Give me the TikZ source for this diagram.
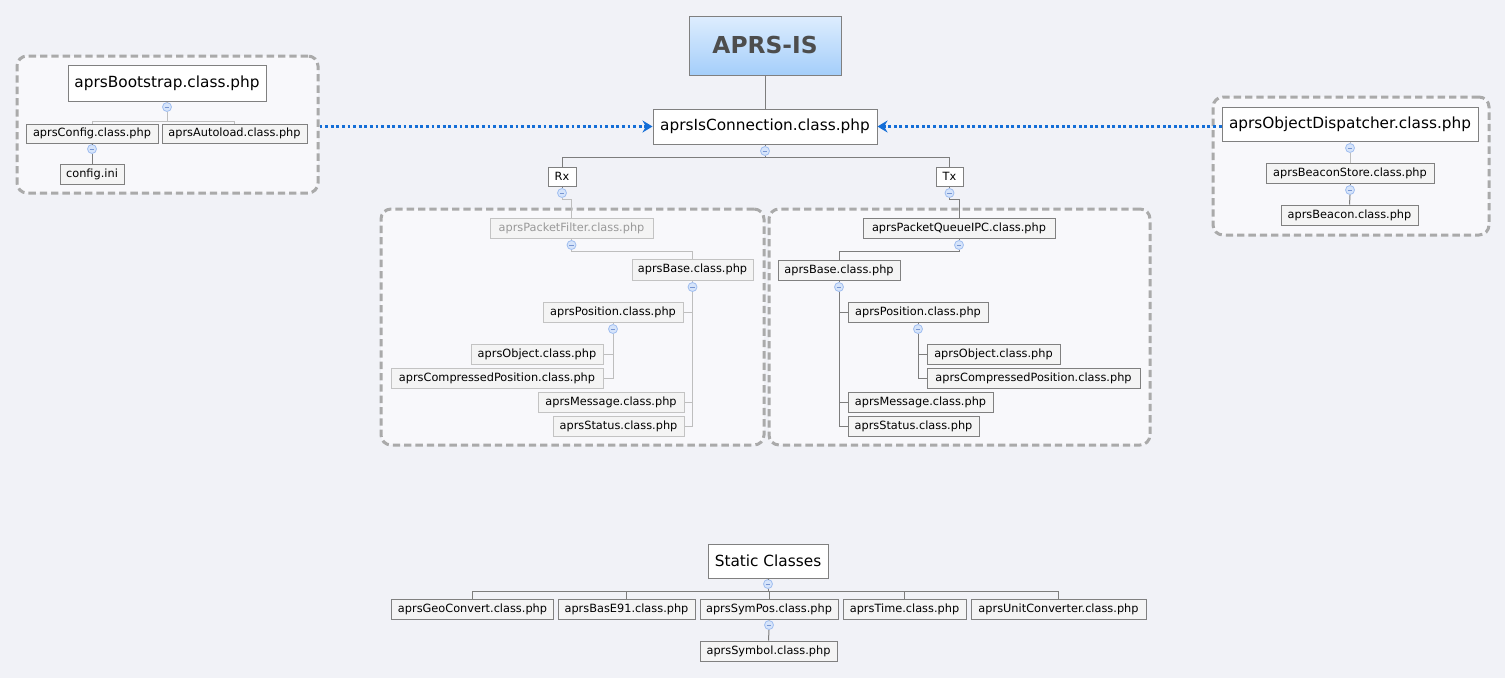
\documentclass[tikz,border=0pt]{standalone}
\usepackage{fontspec}
\setmainfont{DejaVu Sans}
\usetikzlibrary{arrows.meta}
\definecolor{bgc}{RGB}{241,242,247}
\definecolor{grpf}{RGB}{248,248,251}
\definecolor{grpc}{RGB}{170,170,170}
\definecolor{ndc}{RGB}{128,128,128}
\definecolor{ndl}{RGB}{195,195,195}
\definecolor{smf}{RGB}{244,244,244}
\definecolor{cbf}{RGB}{214,228,250}
\definecolor{cbd}{RGB}{160,190,240}
\definecolor{cbm}{RGB}{120,150,210}
\definecolor{lnd}{RGB}{125,125,125}
\definecolor{lnlc}{RGB}{190,190,190}
\definecolor{arrc}{RGB}{20,110,215}
\definecolor{topb}{RGB}{222,237,254}
\definecolor{botb}{RGB}{164,206,250}
\definecolor{titc}{RGB}{77,77,77}
\newcommand\smfnt{\fontsize{8.5}{10}\selectfont}
\newcommand\bgfnt{\fontsize{11.5}{13}\selectfont}
\tikzset{
  wh/.style 2 args={minimum width=#1*0.75pt, minimum height=#2*0.75pt},
  basebox/.style={draw=ndc, line width=0.75pt, inner sep=0pt, text=black},
  sm/.style={basebox, fill=smf, font=\smfnt},
  smlt/.style={sm, draw=ndl},
  big/.style={basebox, fill=white, font=\bgfnt},
  grp/.style={draw=grpc, line width=2.25pt, dash pattern=on 5.5pt off 3pt, rounded corners=7.5pt, fill=grpf, inner sep=0pt},
  cb/.style={circle, draw=cbd, fill=cbf, line width=0.6pt, minimum size=6.75pt, inner sep=0pt,
    path picture={\draw[cbm, line width=0.6pt] ([xshift=-1.8pt]path picture bounding box.center) -- ([xshift=1.8pt]path picture bounding box.center);}},
  ln/.style={draw=lnd, line width=0.75pt},
  lnl/.style={draw=lnlc, line width=0.75pt},
  arr/.style={draw=arrc, line width=2.25pt, dash pattern=on 2.2pt off 2pt, -{Stealth[length=7.5pt,width=9pt,inset=2.5pt]}}
}
\begin{document}
\begin{tikzpicture}[x=0.75pt,y=-0.75pt]
\fill[bgc] (0,0) rectangle (1505,678);
\useasboundingbox (0,0) rectangle (1505,678);

% groups
\node[grp, wh={301}{137}] (lg) at (167.5,124.5) {};
\node[grp, wh={276}{138}] (rg) at (1351,166) {};
\node[grp, wh={383}{236}] (rxg) at (572.5,327) {};
\node[grp, wh={381}{236}] (txg) at (959.5,327) {};

% top
\node[basebox, top color=topb, bottom color=botb, wh={152}{59}, font=\fontsize{17.5}{20}\selectfont\bfseries, text=titc] (aprs) at (765,45.5) {APRS-IS};
\node[big, wh={224}{35}] (isc) at (765,126.5) {aprsIsConnection.class.php};
\node[cb] (cisc) at (765,151) {};
\node[sm, fill=white, wh={28}{19}] (rx) at (562,176.5) {Rx};
\node[sm, fill=white, wh={27}{19}] (tx) at (949.5,176.5) {Tx};
\node[cb] (crx) at (562,193) {};
\node[cb] (ctx) at (949.5,193) {};

% Rx group
\node[smlt, text=gray!80, wh={163}{20}] (pf) at (571.5,228) {aprsPacketFilter.class.php};
\node[cb] (cpf) at (571.5,245) {};
\node[smlt, wh={121}{21}] (rb) at (692.5,269.5) {aprsBase.class.php};
\node[cb] (crb) at (692.5,287) {};
\node[smlt, wh={140}{20}] (rpos) at (613,312) {aprsPosition.class.php};
\node[cb] (crp) at (613,329) {};
\node[smlt, wh={132}{20}] (robj) at (537,354) {aprsObject.class.php};
\node[smlt, wh={212}{20}] (rcmp) at (497,378) {aprsCompressedPosition.class.php};
\node[smlt, wh={146}{20}] (rmsg) at (611,402) {aprsMessage.class.php};
\node[smlt, wh={131}{20}] (rst) at (618.5,426) {aprsStatus.class.php};

% Tx group
\node[sm, wh={192}{20}] (pq) at (959,228.5) {aprsPacketQueueIPC.class.php};
\node[cb] (cpq) at (959,245) {};
\node[sm, wh={122}{20}] (tb) at (839,270) {aprsBase.class.php};
\node[cb] (ctb) at (839,287) {};
\node[sm, wh={140}{20}] (tpos) at (918,312) {aprsPosition.class.php};
\node[cb] (ctp) at (918,329) {};
\node[sm, wh={133}{20}] (tobj) at (993.5,354) {aprsObject.class.php};
\node[sm, wh={213}{20}] (tcmp) at (1033.5,378) {aprsCompressedPosition.class.php};
\node[sm, wh={145}{20}] (tmsg) at (920.5,402) {aprsMessage.class.php};
\node[sm, wh={131}{20}] (tst) at (913.5,426) {aprsStatus.class.php};

% left group
\node[big, wh={198}{36}] (boot) at (167,83) {aprsBootstrap.class.php};
\node[cb] (cboot) at (167,107) {};
\node[sm, wh={132}{19}] (cfg) at (92,133.5) {aprsConfig.class.php};
\node[sm, wh={145}{19}] (auto) at (234.5,133.5) {aprsAutoload.class.php};
\node[cb] (ccfg) at (92,149) {};
\node[sm, wh={64}{20}] (ini) at (92,174.5) {config.ini};

% right group
\node[big, wh={256}{34}] (disp) at (1350,124) {aprsObjectDispatcher.class.php};
\node[cb] (cdisp) at (1350,148) {};
\node[sm, wh={168}{20}] (store) at (1350,173) {aprsBeaconStore.class.php};
\node[cb] (cstore) at (1350,190) {};
\node[sm, wh={137}{20}] (beacon) at (1349.5,215) {aprsBeacon.class.php};

% static classes
\node[big, wh={120}{34}] (sc) at (768,561) {Static Classes};
\node[cb] (csc) at (768,584) {};
\node[sm, wh={162}{20}] (geo) at (472.5,609) {aprsGeoConvert.class.php};
\node[sm, wh={137}{20}] (bas) at (626.5,609) {aprsBasE91.class.php};
\node[sm, wh={138}{20}] (sym) at (769,609) {aprsSymPos.class.php};
\node[sm, wh={123}{20}] (time) at (904.5,609) {aprsTime.class.php};
\node[sm, wh={175}{20}] (unit) at (1058.5,609) {aprsUnitConverter.class.php};
\node[cb] (csym) at (769,625) {};
\node[sm, wh={137}{20}] (symb) at (768.5,651) {aprsSymbol.class.php};

% connectors
\draw[ln] (aprs.south) -- (isc.north);
\draw[ln] (isc.south) -- (cisc.north);
\draw[ln] (cisc.south) -- ++(0,1.5) -| (rx.north);
\draw[ln] (cisc.south) -- ++(0,1.5) -| (tx.north);
\draw[ln] (rx.south) -- (crx.north);
\draw[ln] (tx.south) -- (ctx.north);
\draw[lnl] (crx.south) -- ++(0,1.5) -| (pf.north);
\draw[ln] (ctx.south) -- ++(0,1.5) -| (pq.north);

\draw[lnl] (pf.south) -- (cpf.north);
\draw[lnl] (cpf.south) -- ++(0,1.5) -| (rb.north);
\draw[lnl] (rb.south) -- (crb.north);
\draw[lnl] (crb.south) |- (rpos.east);
\draw[lnl] (crb.south) |- (rmsg.east);
\draw[lnl] (crb.south) |- (rst.east);
\draw[lnl] (rpos.south) -- (crp.north);
\draw[lnl] (crp.south) |- (robj.east);
\draw[lnl] (crp.south) |- (rcmp.east);

\draw[ln] (pq.south) -- (cpq.north);
\draw[ln] (cpq.south) -- ++(0,1.5) -| (tb.north);
\draw[ln] (tb.south) -- (ctb.north);
\draw[ln] (ctb.south) |- (tpos.west);
\draw[ln] (ctb.south) |- (tmsg.west);
\draw[ln] (ctb.south) |- (tst.west);
\draw[ln] (tpos.south) -- (ctp.north);
\draw[ln] (ctp.south) |- (tobj.west);
\draw[ln] (ctp.south) |- (tcmp.west);

\draw[lnl] (boot.south) -- (cboot.north);
\draw[lnl] (cboot.south) -- ++(0,9.5) -| (cfg.north);
\draw[lnl] (cboot.south) -- ++(0,9.5) -| (auto.north);
\draw[ln] (cfg.south) -- (ccfg.north);
\draw[ln] (ccfg.south) -- (ini.north);

\draw[lnl] (disp.south) -- (cdisp.north);
\draw[lnl] (cdisp.south) -- (store.north);
\draw[ln] (store.south) -- (cstore.north);
\draw[ln] (cstore.south) -- (beacon.north);

\draw[ln] (sc.south) -- (csc.north);
\foreach \c in {geo,bas,sym,time,unit}
  \draw[ln] (csc.south) -- ++(0,2.5) -| (\c.north);
\draw[lnl] (sym.south) -- (csym.north);
\draw[ln] (csym.south) -- (symb.north);

% dotted arrows
\draw[arr] (lg.east |- isc.west) -- (isc.west);
\draw[arr] (disp.west |- isc.east) -- (isc.east);
\end{tikzpicture}
\end{document}
